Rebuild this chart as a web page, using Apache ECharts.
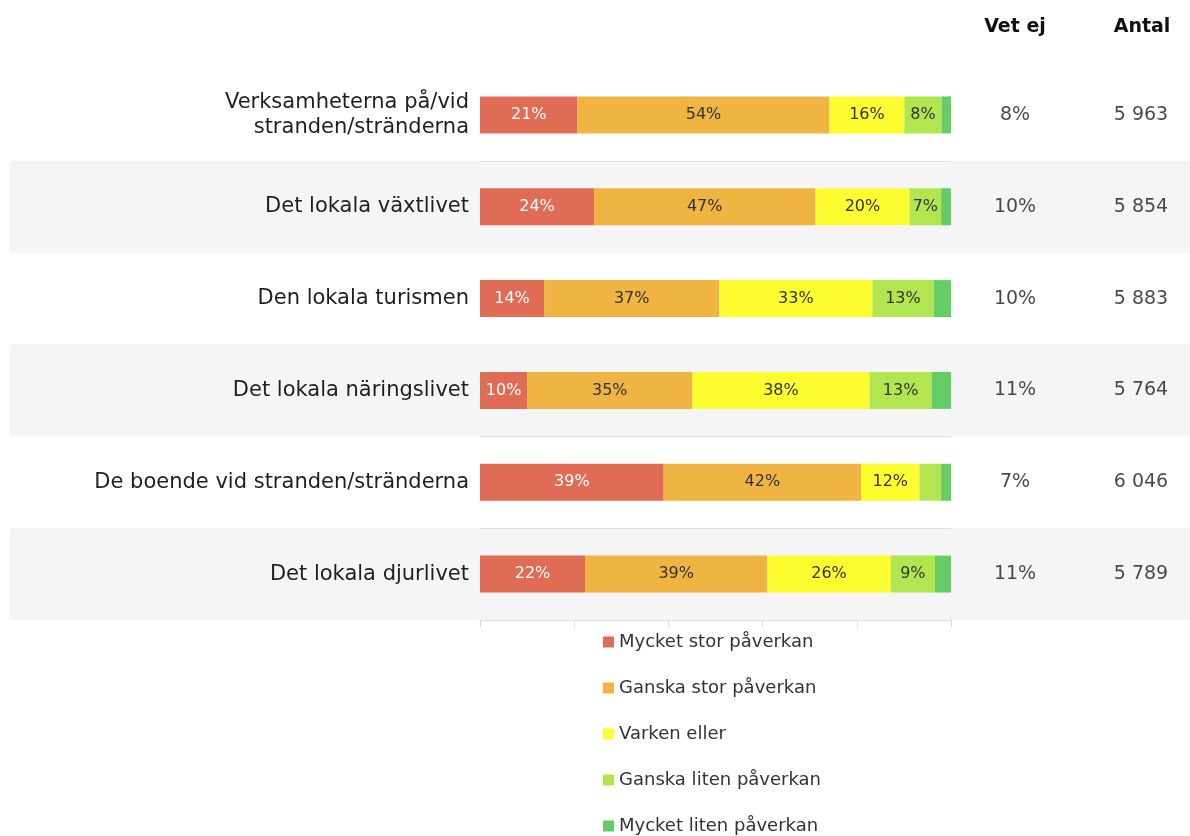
<!DOCTYPE html>
<html>
<head>
<meta charset="utf-8">
<script src="https://cdn.jsdelivr.net/npm/echarts@6/dist/echarts.min.js"></script>
<style>
  html, body { margin: 0; padding: 0; background: #ffffff; }
  #chart { width: 1190px; height: 836px; }
</style>
</head>
<body>
<div id="chart"></div>
<script>
// kategorier (uppifrån och ned)
var categories = [
  'Verksamheterna på/vid\nstranden/stränderna',
  'Det lokala växtlivet',
  'Den lokala turismen',
  'Det lokala näringslivet',
  'De boende vid stranden/stränderna',
  'Det lokala djurlivet'
];
// serier (andel i procent, exkl. vet ej)
var seriesNames = ['Mycket stor påverkan', 'Ganska stor påverkan', 'Varken eller', 'Ganska liten påverkan', 'Mycket liten påverkan'];
var mycketStor  = [20.7, 24.2, 13.6, 10.0, 39.0, 22.3];
var ganskaStor  = [53.5, 47.0, 37.2, 35.1, 41.9, 38.7];
var varken      = [15.9, 20.0, 32.5, 37.6, 12.4, 26.2];
var ganskaLiten = [7.9, 6.7, 13.0, 13.2, 4.6, 9.4];
var mycketLiten = [2.0, 2.1, 3.7, 4.1, 2.1, 3.4];
// högerkolumner
var vetEj = [8, 10, 10, 11, 7, 11];
var antal = [5963, 5854, 5883, 5764, 6046, 5789];

var colors = ['#E06C55', '#EFB441', '#FDFD30', '#B2E650', '#66CC66'];
var labelColors = ['#ffffff', '#333333', '#333333', '#333333', '#333333'];
var FONT = 'DejaVu Sans';

// kolumnpositioner (pixlar i den breda griden)
var VETEJ_X = 1015;
var ANTAL_X = 1141;
// rader som har en skiljelinje ovanför sig
var lineAbove = [1, 4, 5];

function fmtAntal(n) {
  return String(n).replace(/\B(?=(\d{3})+(?!\d))/g, ' ');
}

var chart = echarts.init(document.getElementById('chart'));

var allSeries = [mycketStor, ganskaStor, varken, ganskaLiten, mycketLiten];
var barSeries = allSeries.map(function (arr, k) {
  return {
    name: seriesNames[k],
    type: 'bar',
    stack: 'tot',
    xAxisIndex: 0,
    yAxisIndex: 0,
    barWidth: 37,
    z: 3,
    itemStyle: { color: colors[k] },
    label: {
      show: true,
      position: 'inside',
      fontFamily: FONT,
      fontSize: 16,
      color: labelColors[k],
      formatter: function (p) {
        return p.value >= 6 ? Math.round(p.value) + '%' : '';
      }
    },
    data: arr
  };
});

// bakgrundsband för varannan rad
var bandData = categories.map(function (c, i) { return i % 2 === 1 ? 1190 : 0; });

function colLabel(fmt) {
  return {
    show: true, position: 'inside', fontFamily: FONT, fontSize: 19,
    color: '#1a1a1a', textBorderWidth: 0, formatter: fmt
  };
}

var option = {
  animation: false,
  textStyle: { fontFamily: FONT },
  title: [
    { text: 'Vet ej', left: 1010, top: 13, textAlign: 'center',
      textStyle: { fontFamily: FONT, fontSize: 19, fontWeight: 'bold', color: '#111' } },
    { text: 'Antal', left: 1137, top: 13, textAlign: 'center',
      textStyle: { fontFamily: FONT, fontSize: 19, fontWeight: 'bold', color: '#111' } }
  ],
  legend: {
    orient: 'vertical',
    left: 603,
    top: 633,
    padding: 0,
    itemWidth: 11,
    itemHeight: 11,
    itemGap: 28,
    icon: 'rect',
    textStyle: { fontFamily: FONT, fontSize: 18, lineHeight: 18, color: '#333' },
    data: seriesNames
  },
  grid: [
    { left: 480, right: 239, top: 69, bottom: 216 },
    { left: 10, right: 0, top: 69, bottom: 216 }
  ],
  xAxis: [
    {
      gridIndex: 0, type: 'value', min: 0, max: 100, interval: 20,
      axisLine: { show: true, lineStyle: { color: '#d9d9d9', width: 1 } },
      axisTick: { show: true, length: 7, lineStyle: { color: '#d9d9d9' } },
      axisLabel: { show: false },
      splitLine: { show: false }
    },
    {
      gridIndex: 1, type: 'value', min: 10, max: 1190, show: false
    }
  ],
  yAxis: [
    {
      gridIndex: 0, type: 'category', inverse: true, data: categories, z: 2,
      axisLine: { show: false },
      axisTick: { show: false },
      axisLabel: {
        margin: 11, fontFamily: FONT, fontSize: 21, color: '#1f1f1f',
        lineHeight: 25, align: 'right'
      },
      splitLine: {
        show: true,
        lineStyle: { color: '#dedede', width: 1 },
        interval: function (idx) { return lineAbove.indexOf(idx) >= 0; }
      }
    },
    {
      gridIndex: 1, type: 'category', inverse: true, data: categories, show: false
    }
  ],
  series: barSeries.concat([
    {
      name: 'band',
      type: 'bar',
      xAxisIndex: 1, yAxisIndex: 1,
      barWidth: '100%',
      silent: true,
      z: -1,
      itemStyle: { color: '#f5f5f5' },
      data: bandData
    },
    {
      name: 'vetej',
      type: 'scatter',
      xAxisIndex: 1, yAxisIndex: 1,
      symbolSize: 1,
      z: 3,
      itemStyle: { color: 'rgba(0,0,0,0)' },
      label: colLabel(function (p) { return p.value[2] + '%'; }),
      data: vetEj.map(function (v, i) { return [VETEJ_X, i, v]; })
    },
    {
      name: 'antal',
      type: 'scatter',
      xAxisIndex: 1, yAxisIndex: 1,
      symbolSize: 1,
      z: 3,
      itemStyle: { color: 'rgba(0,0,0,0)' },
      label: colLabel(function (p) { return fmtAntal(p.value[2]); }),
      data: antal.map(function (v, i) { return [ANTAL_X, i, v]; })
    }
  ])
};

chart.setOption(option);
</script>
</body>
</html>
